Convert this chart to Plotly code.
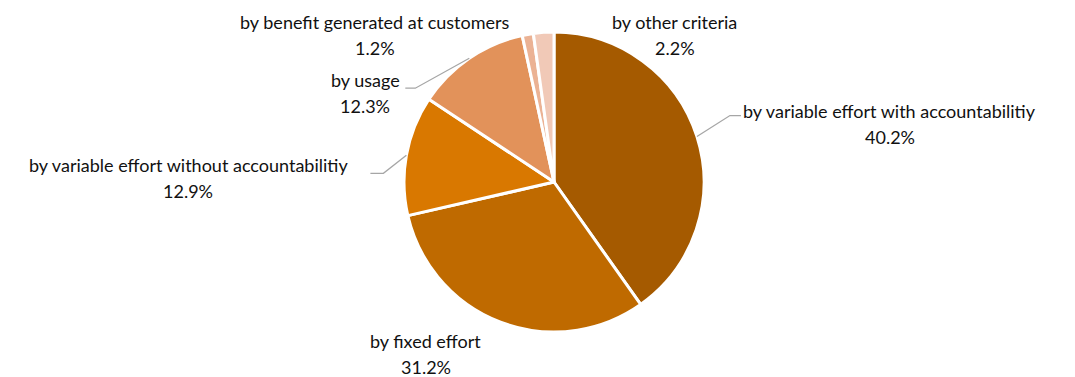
import math
import plotly.graph_objects as go

# Share of cost allocation methods
categories = [
    "by variable effort with accountabilitiy",
    "by fixed effort",
    "by variable effort without accountabilitiy",
    "by usage",
    "by benefit generated at customers",
    "by other criteria",
]
shares = [40.2, 31.2, 12.9, 12.3, 1.2, 2.2]
colors = ["#A55A00", "#BF6A00", "#D97800", "#E2925A", "#EBB294", "#F1C9B7"]

W, H = 1075, 377
CX, CY, R = 554, 182, 150  # pie centre and radius in pixels

# label block centre offset from the slice's rim point, and optional leader elbow/end offsets
label_offsets = [(193, -13), (-75, 32), (-218, 23), (-104, 35), (-153, 1), (131, 3)]
leader_paths = [
    [(33, -21), (44, -21)],
    None,
    [(-23, 18), (-36, 18)],
    [(-54, 30), (-64, 30)],
    None,
    None,
]

fig = go.Figure(
    go.Pie(
        labels=categories,
        values=shares,
        sort=False,
        direction="clockwise",
        rotation=0,
        marker=dict(colors=colors, line=dict(color="white", width=3)),
        textinfo="none",
        hoverinfo="skip",
        showlegend=False,
        domain=dict(x=[(CX - R) / W, (CX + R) / W], y=[(H - CY - R) / H, (H - CY + R) / H]),
    )
)


def px(x, y):
    return x / W, 1 - y / H


total = sum(shares)
start = 0.0
annotations = []
shapes = []
for name, v, off, path in zip(categories, shares, label_offsets, leader_paths):
    mid = (start + v / 2) / total * 2 * math.pi
    start += v
    ax = CX + R * math.sin(mid)
    ay = CY - R * math.cos(mid)
    lx, ly = ax + off[0], ay + off[1]
    for txt, dy in ((name, -13), (f"{v:.1f}%", 13)):
        x, y = px(lx, ly + dy)
        annotations.append(
            dict(
                x=x, y=y, xref="paper", yref="paper", text=txt, showarrow=False,
                xanchor="center", yanchor="middle",
                font=dict(family="Lato, Calibri, sans-serif", size=18, color="#111111"),
            )
        )
    if path:
        pts = [(ax, ay)] + [(ax + p[0], ay + p[1]) for p in path]
        d = "M " + " L ".join(f"{px(*p)[0]},{px(*p)[1]}" for p in pts)
        shapes.append(dict(type="path", path=d, xref="paper", yref="paper",
                           line=dict(color="#A6A6A6", width=1.3)))

fig.update_layout(
    width=W, height=H,
    margin=dict(l=0, r=0, t=0, b=0),
    paper_bgcolor="white", plot_bgcolor="white",
    annotations=annotations, shapes=shapes,
)

fig.write_html("out.html")
